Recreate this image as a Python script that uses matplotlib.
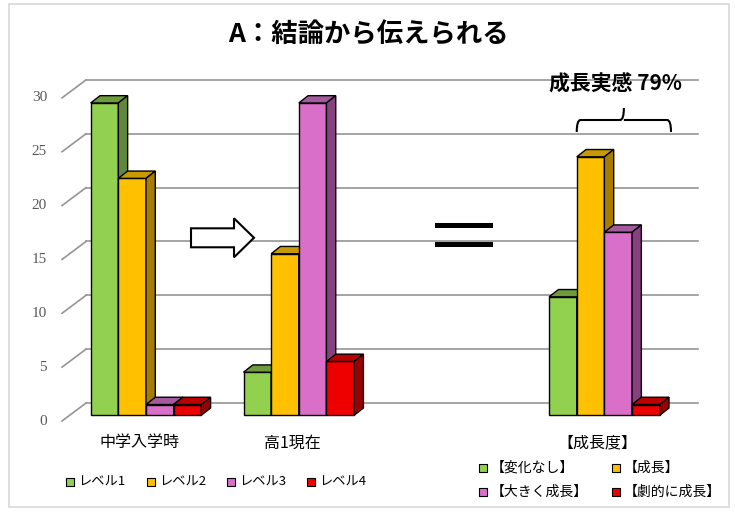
import numpy as np
import matplotlib
matplotlib.use('Agg')
import matplotlib.pyplot as plt
from matplotlib.patches import Polygon, Rectangle, PathPatch
from matplotlib.path import Path

plt.rcParams['font.family'] = ['Noto Sans CJK JP', 'DejaVu Sans']

# --- data ---
categories = ['中学入学時', '高1現在', '', '【成長度】']
level_names = ['レベル1', 'レベル2', 'レベル3', 'レベル4']
growth_names = ['【変化なし】', '【成長】', '【大きく成長】', '【劇的に成長】']
level1 = [29, 4, np.nan, 11]
level2 = [22, 15, np.nan, 24]
level3 = [1, 29, np.nan, 17]
level4 = [1, 5, np.nan, 1]
yticks = [0, 5, 10, 15, 20, 25, 30]

series = [level1, level2, level3, level4]
front_c = ['#92D050', '#FFC000', '#DA6FC9', '#EE0000']
top_c = ['#6E9C3C', '#C99A00', '#A55A9D', '#BB0000']
side_c = ['#62873A', '#A57D00', '#86417E', '#990000']
grid_c = '#959595'

# --- layout (pixel reference -> data units) ---
W, H = 735, 517
CAT0_PX, PX_PER_CAT = 146.0, 152.8
BASE_PX, PX_PER_UNIT = 415.3, 10.77


def dx_(px):
    return (px - CAT0_PX) / PX_PER_CAT


def dy_(py):
    return (BASE_PX - py) / PX_PER_UNIT


bar_w = 27.65 / PX_PER_CAT
depth_x = 9.3 / PX_PER_CAT
depth_y = 7.3 / PX_PER_UNIT
front_off, back_off = -0.53, 1.14

fig = plt.figure(figsize=(W / 100, H / 100), dpi=100)
ax = fig.add_axes([0, 0, 1, 1])
ax.set_xlim(dx_(0), dx_(W))
ax.set_ylim(dy_(H), dy_(0))
ax.axis('off')

# frame
fig.patches.append(Rectangle((9 / W, 1 - 507 / H), 720 / W, 503 / H,
                             transform=fig.transFigure, fill=False,
                             ec='#d9d9d9', lw=1.2))

# gridlines in perspective + y labels
for v in yticks:
    ax.plot([dx_(62), dx_(86)], [v + front_off, v + back_off], color=grid_c, lw=1.2, zorder=1)
    ax.plot([dx_(86), dx_(698)], [v + back_off, v + back_off], color=grid_c, lw=1.2, zorder=1)
    ax.text(dx_(47), v + front_off, str(v), ha='right', va='center', fontsize=11,
            family='Liberation Serif', color='#595959')

# 3d-looking bars
xs = np.arange(len(categories))
for i, vals in enumerate(series):
    vals = np.array(vals, dtype=float)
    ok = ~np.isnan(vals)
    x0 = xs[ok] + (i - 2) * bar_w
    hv = vals[ok]
    z = 3 + i
    ax.bar(x0, hv, width=bar_w, align='edge', color=front_c[i], edgecolor='black', lw=1, zorder=z)
    for a, h in zip(x0, hv):
        b = a + bar_w
        ax.add_patch(Polygon([(a, h), (a + depth_x, h + depth_y), (b + depth_x, h + depth_y), (b, h)],
                             closed=True, fc=top_c[i], ec='black', lw=1, zorder=z))
        ax.add_patch(Polygon([(b, 0), (b + depth_x, depth_y), (b + depth_x, h + depth_y), (b, h)],
                             closed=True, fc=side_c[i], ec='black', lw=1, zorder=z))

# category labels
for j, c in enumerate(categories):
    ax.text(j - 0.045, dy_(443), c, ha='center', va='center', fontsize=11.5, color='black')

# arrow between first two groups
ay = dy_(237.8)
bh, hh = 0.88, 1.81
ax.add_patch(Polygon([(dx_(191), ay - bh), (dx_(234), ay - bh), (dx_(234), ay - hh), (dx_(254), ay),
                      (dx_(234), ay + hh), (dx_(234), ay + bh), (dx_(191), ay + bh)],
                     closed=True, fc='white', ec='black', lw=1.5, zorder=6))

# equals sign
for y0, y1 in [(dy_(228.3), dy_(223.3)), (dy_(246.7), dy_(241.7))]:
    ax.add_patch(Rectangle((dx_(435), y0), dx_(492.7) - dx_(435), y1 - y0, fc='black', ec='none', zorder=6))

# brace over the growth bars
g = 3
grow = level2[g] + level3[g] + level4[g]
total = level1[g] + grow
pct = round(100 * grow / total)
bl = g - bar_w
br = g + 2 * bar_w + depth_x + 0.013
bm = (bl + br) / 2
yb = dy_(132)
ym = dy_(120)
yt = dy_(108)
cx = 0.025
brace = Path([(bl, yb), (bl, ym), (bl + cx, ym), (bm - cx, ym), (bm, ym), (bm, yt),
              (bm, ym), (bm + cx, ym), (br - cx, ym), (br, ym), (br, yb)],
             [Path.MOVETO, Path.CURVE3, Path.CURVE3, Path.LINETO, Path.CURVE3, Path.CURVE3,
              Path.MOVETO, Path.CURVE3, Path.LINETO, Path.CURVE3, Path.CURVE3])
ax.add_patch(PathPatch(brace, fill=False, ec='black', lw=1.5, zorder=6))
ax.text(dx_(615), dy_(84), f'成長実感 {pct}%', ha='center', va='center', fontsize=15,
        fontweight='bold', zorder=7)

# title
fig.text(368 / W, 1 - 35 / H, 'A：結論から伝えられる', ha='center', va='center',
         fontsize=19, fontweight='bold')


# legends
def legend_item(px, py, color, label, size):
    ax.scatter([dx_(px)], [dy_(py)], marker='s', s=26, c=color, edgecolors='black', lw=0.8, zorder=6)
    ax.text(dx_(px + 8), dy_(py), label, ha='left', va='center', fontsize=size)


for px, c, lab in zip([70, 151, 231, 311], front_c, level_names):
    legend_item(px, 482, c, lab, 9.5)

for (px, py), c, lab in zip([(483, 468), (616, 468), (483, 492), (616, 492)], front_c, growth_names):
    legend_item(px, py, c, lab, 10)

fig.savefig('out.png', dpi=100)
